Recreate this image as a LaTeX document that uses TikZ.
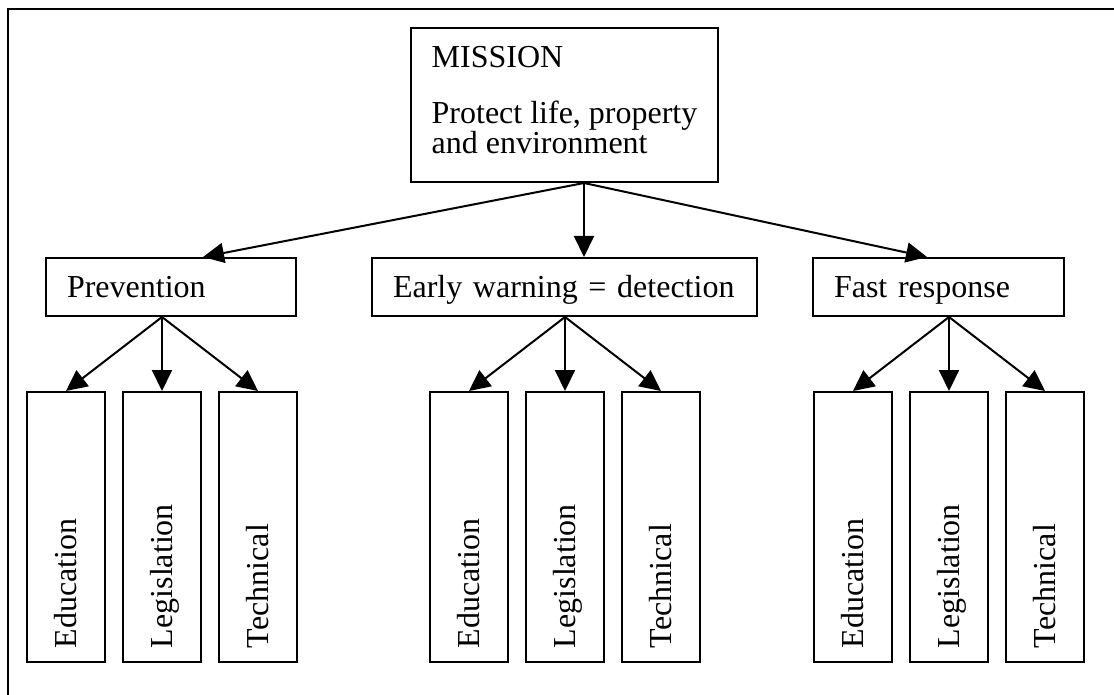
\documentclass[tikz,border=0pt]{standalone}
\usepackage{fontspec}
\setmainfont{Liberation Serif}
\usetikzlibrary{arrows.meta}
\tikzset{
    box/.style={draw, line width=2pt, inner xsep=21pt, inner ysep=0pt, align=left,
        minimum height=58pt, text height=21pt, text depth=0pt},
    leaf/.style={draw, line width=2pt, rotate=90, inner xsep=14pt, inner ysep=0pt,
        minimum width=270pt, minimum height=78pt, text width=242pt, align=left,
        text height=21pt, text depth=0pt},
    link/.style={-{Triangle[length=21pt,width=20pt]}, line width=2pt}
}

\begin{document}
\begin{tikzpicture}[x=1pt, y=-1pt, font=\fontsize{32}{30}\selectfont]
                    \useasboundingbox (0,0) rectangle (1114,695);
                    \draw[line width=2.5pt] (1114,9) -- (8,9) -- (8,695);

                    \node[draw, line width=2pt, inner xsep=0pt, inner ysep=0pt, align=left,
                        minimum width=307pt, minimum height=154pt] (mission) at (564.5,105)
                        {MISSION\\[26pt]Protect life, property\\and environment\rule[-10pt]{0pt}{10pt}};

                    \node[box, text width=208pt] (prev) at (171,287) {Prevention};
                    \node[box, text width=343pt] (warn) at (564.5,287) {Early warning = detection};
                    \node[box, text width=209pt] (resp) at (938.5,287) {Fast response};

                    \coordinate (fork) at ([xshift=19.5pt]mission.south);
                    \draw
                    (fork) edge[link] ([xshift=32pt]prev.north)
                    (fork) edge[link] (fork |- warn.north)
                    (fork) edge[link] ([xshift=-11.5pt]resp.north);

                    \foreach \grp/\x in {prev/162, warn/565, resp/949} {
                        \node[leaf] (\grp-edu) at (\x-96,527) {Education};
                        \node[leaf] (\grp-leg) at (\x,527) {Legislation};
                        \node[leaf] (\grp-tech) at (\x+96,527) {Technical};

                        \draw
                        (\grp.south -| \grp-leg) edge[link] (\grp-edu.east)
                        (\grp.south -| \grp-leg) edge[link] (\grp-leg.east)
                        (\grp.south -| \grp-leg) edge[link] (\grp-tech.east);
                    }
                \end{tikzpicture}
\end{document}
